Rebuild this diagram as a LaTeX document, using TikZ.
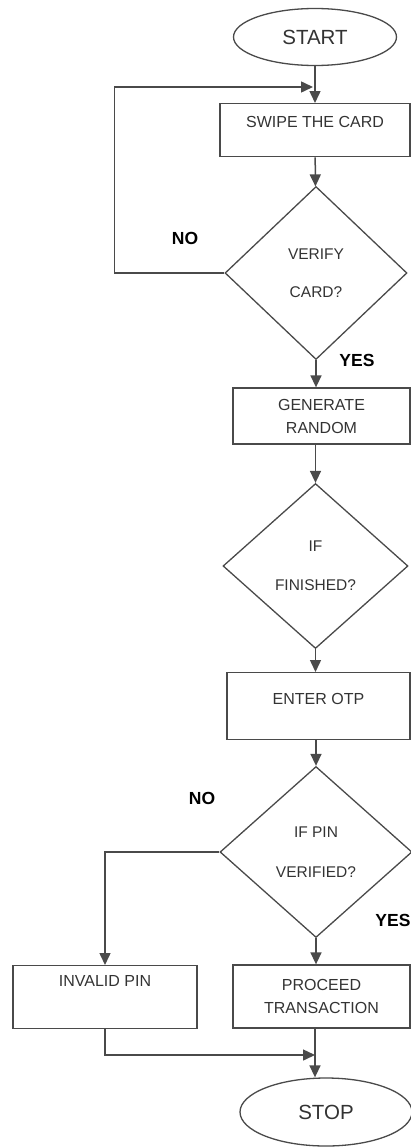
\documentclass[tikz,border=0pt]{standalone}
\usepackage{fontspec}
\setmainfont{Liberation Sans}
\usepackage{tikz}
\usetikzlibrary{positioning,arrows.meta,shapes.geometric,calc}
\definecolor{clinea}{HTML}{4A4A4A}
\definecolor{ctexto}{HTML}{333333}
\tikzset{
  caja/.style={rectangle, draw=clinea, line width=1.3pt, inner sep=0pt,
    align=center, text=ctexto, font=\fontsize{16}{23}\selectfont},
  rombo/.style={diamond, draw=clinea, line width=1.3pt, inner sep=0pt,
    align=center, text=ctexto, font=\fontsize{15.5}{19}\selectfont},
  terminal/.style={ellipse, draw=clinea, line width=1.3pt, inner sep=0pt,
    text=ctexto, font=\fontsize{20.5}{24}\selectfont},
  flecha/.style={-{Triangle[length=12pt, width=11pt]}, line width=1.5pt, draw=clinea},
  etq/.style={font=\bfseries\fontsize{17.5}{20}\selectfont, text=black},
}
\begin{document}
\begin{tikzpicture}[x=1pt, y=-1pt]
  \useasboundingbox (0,0) rectangle (411,1148);
  \node[terminal, minimum width=163pt, minimum height=57pt] (ini) at (315,37) {START};
  \node[caja, anchor=north, minimum width=190pt, text height=24pt, text depth=29pt] (tarj) at (315,103) {SWIPE THE CARD};
  \node[rombo, minimum width=182pt, minimum height=173pt] (ver) at (316,273) {VERIFY\\[19pt]CARD?};
  \node[caja, minimum width=177pt, minimum height=56pt] (gen) at (321.5,416) {GENERATE\\RANDOM};
  \node[rombo, minimum width=185pt, minimum height=165pt] (fin) at (315.5,566) {IF\\[20pt]FINISHED?};
  \node[caja, anchor=north, minimum width=183pt, text height=32pt, text depth=35pt] (otp) at (318.5,672) {ENTER OTP};
  \node[rombo, minimum width=192pt, minimum height=171pt] (pin) at (316,852) {IF PIN\\[21pt]VERIFIED?};
  \node[caja, anchor=north, minimum width=184pt, text height=21pt, text depth=42pt] (inv) at (105,965) {INVALID PIN};
  \node[caja, minimum width=177pt, minimum height=63pt] (proc) at (321.5,996.5) {PROCEED\\TRANSACTION};
  \node[terminal, minimum width=172pt, minimum height=68pt] (stop) at (326,1112) {STOP};
  \coordinate (bucle) at (313,87);
  \coordinate (union) at (315,1055);
  % etiquetas de las decisiones
  \node[etq] (no1) at (185,238) {NO};
  \node[etq] (si1) at (357,360) {YES};
  \node[etq] (no2) at (202,798) {NO};
  \node[etq] (si2) at (393,920) {YES};
  \draw[flecha] (ini)--(tarj); \draw[flecha] (tarj)--(ver);
  \draw[flecha] (ver.west)--++(-110,0) |- (bucle);
  \draw[flecha] (ver.south)--(ver.south |- gen.north);
  \draw[flecha] (gen.south -| fin.north)--(fin.north);
  \draw[flecha] (fin.south)--(fin.south |- otp.north);
  \draw[flecha] (otp.south -| pin.north)--(pin.north);
  \draw[flecha] (pin.west)-|(inv.north); \draw[flecha] (pin.south)--(pin.south |- proc.north);
  \draw[flecha] (inv.south)|-(union); \draw[flecha] (proc.south -| union)--(union |- stop.north);
\end{tikzpicture}
\end{document}
